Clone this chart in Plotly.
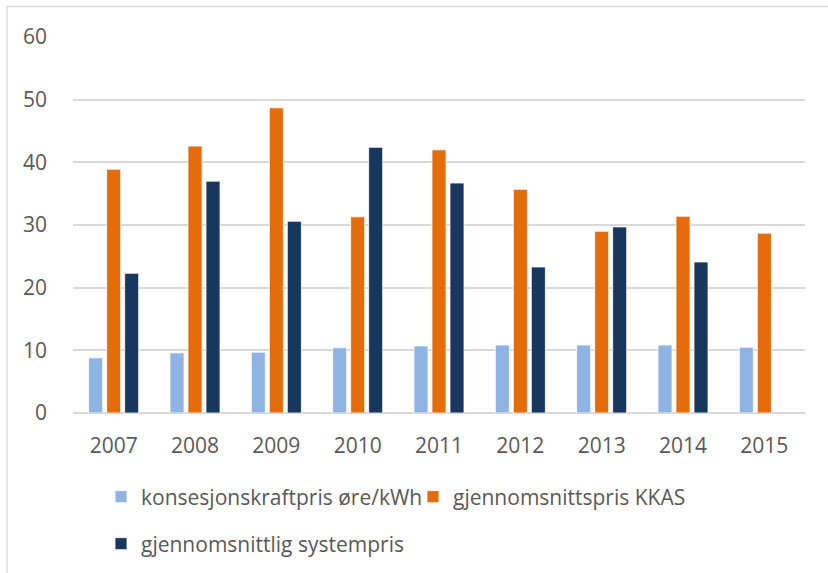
import plotly.graph_objects as go

years = ["2007", "2008", "2009", "2010", "2011", "2012", "2013", "2014", "2015"]
konsesjon = [8.8, 9.6, 9.7, 10.4, 10.7, 10.85, 10.85, 10.85, 10.5]
kkas = [38.9, 42.6, 48.7, 31.3, 42.0, 35.7, 29.0, 31.4, 28.7]
system = [22.3, 37.0, 30.6, 42.4, 36.7, 23.3, 29.7, 24.1, None]

names = ["konsesjonskraftpris øre/kWh", "gjennomsnittspris KKAS", "gjennomsnittlig systempris"]
colors = ["#8FB4E3", "#E46C0A", "#17375E"]
legends = ["legend", "legend", "legend2"]

fig = go.Figure()
for vals, name, col, lg in zip([konsesjon, kkas, system], names, colors, legends):
    fig.add_trace(go.Bar(x=years, y=vals, name=name, legend=lg,
                         marker=dict(color=col, line=dict(color="white", width=0.8))))

W, H = 828, 573
L, R, T, B = 73, 23, 37, 160
pw, ph = W - L - R, H - T - B

def px_x(p):
    return (p - L) / pw

def px_y(p):
    return (H - B - p) / ph

font_col = "#595959"
fig.update_layout(
    width=W, height=H,
    margin=dict(l=L, r=R, t=T, b=B, autoexpand=False),
    paper_bgcolor="white", plot_bgcolor="white",
    barmode="group", bargap=0.336, bargroupgap=0.22,
    font=dict(family="Open Sans", size=21, color=font_col),
    xaxis=dict(showgrid=False, showline=False, ticks="", tickfont=dict(size=21, color=font_col),
               ticklabelstandoff=18),
    yaxis=dict(range=[0, 60], dtick=10, showgrid=True, gridcolor="#D9D9D9", gridwidth=1.5,
               zeroline=True, zerolinecolor="#D9D9D9", zerolinewidth=1.5, showline=False,
               ticks="", tickfont=dict(size=21, color=font_col), ticklabelstandoff=25),
    legend=dict(orientation="h", x=px_x(101), xanchor="left", y=px_y(497), yanchor="middle",
                entrywidth=267, entrywidthmode="pixels", font=dict(size=21, color=font_col),
                bgcolor="rgba(0,0,0,0)"),
    legend2=dict(orientation="h", x=px_x(101), xanchor="left", y=px_y(544), yanchor="middle",
                 font=dict(size=21, color=font_col), bgcolor="rgba(0,0,0,0)"),
    showlegend=True,
    shapes=[dict(type="rect", xref="paper", yref="paper",
                 x0=px_x(7), x1=px_x(900), y0=px_y(700), y1=px_y(6.5),
                 line=dict(color="#D9D9D9", width=1.5), fillcolor="rgba(0,0,0,0)", layer="below")],
)

fig.write_html("out.html", config={"displayModeBar": False},
               post_script="document.body.style.margin='0';")
